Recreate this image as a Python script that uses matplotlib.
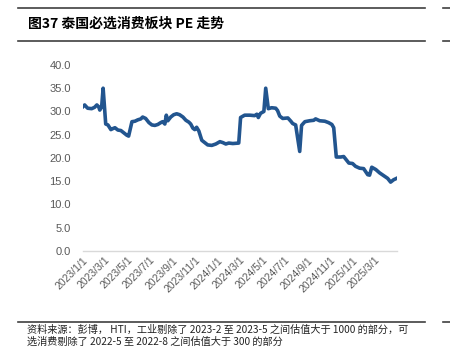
import matplotlib
matplotlib.use('Agg')
import matplotlib.pyplot as plt
import pandas as pd
from matplotlib.lines import Line2D

plt.rcParams['font.family'] = ['Noto Sans CJK SC', 'DejaVu Sans']

# Datos
dates = [
    '2023-01-01', '2023-01-06', '2023-01-14', '2023-01-25', '2023-02-02', '2023-02-08',
    '2023-02-13', '2023-02-16', '2023-02-21', '2023-02-25', '2023-03-04', '2023-03-10',
    '2023-03-18', '2023-03-23', '2023-03-29', '2023-04-06', '2023-04-14', '2023-04-22',
    '2023-04-30', '2023-05-05', '2023-05-14', '2023-05-22', '2023-05-30', '2023-06-07',
    '2023-06-12', '2023-06-20', '2023-06-29', '2023-07-07', '2023-07-15', '2023-07-23',
    '2023-07-31', '2023-08-05', '2023-08-11', '2023-08-15', '2023-08-19', '2023-08-27',
    '2023-09-04', '2023-09-12', '2023-09-20', '2023-09-29', '2023-10-07', '2023-10-15',
    '2023-10-20', '2023-10-26', '2023-10-31', '2023-11-05', '2023-11-11', '2023-11-19',
    '2023-11-27', '2023-12-05', '2023-12-16', '2023-12-27', '2024-01-07', '2024-01-15',
    '2024-01-23', '2024-01-31', '2024-02-11', '2024-02-27', '2024-03-03', '2024-03-14',
    '2024-03-28', '2024-04-10', '2024-04-16', '2024-04-20', '2024-04-26', '2024-05-05',
    '2024-05-10', '2024-05-17', '2024-05-26', '2024-06-06', '2024-06-11', '2024-06-17',
    '2024-06-25', '2024-07-09', '2024-07-17', '2024-07-22', '2024-07-30', '2024-08-10',
    '2024-08-15', '2024-08-24', '2024-09-06', '2024-09-17', '2024-09-22', '2024-10-03',
    '2024-10-17', '2024-10-27', '2024-11-05', '2024-11-10', '2024-11-17', '2024-11-29',
    '2024-12-07', '2024-12-15', '2024-12-21', '2024-12-31', '2025-01-08', '2025-01-19',
    '2025-01-30', '2025-02-10', '2025-02-15', '2025-02-21', '2025-03-04', '2025-03-14',
    '2025-03-25', '2025-04-05', '2025-04-13', '2025-04-21', '2025-04-29',
]
pe_values = [
    31.0, 31.4, 30.7, 30.6, 30.9, 31.4,
    31.0, 30.3, 31.0, 35.0, 27.3, 27.1,
    26.1, 26.3, 26.5, 26.0, 25.9, 25.4,
    24.9, 24.7, 27.8, 27.9, 28.2, 28.4,
    28.8, 28.5, 27.6, 27.1, 27.0, 27.2,
    27.6, 27.8, 27.3, 29.2, 28.0, 28.8,
    29.3, 29.5, 29.3, 28.8, 28.1, 27.7,
    27.3, 26.4, 26.1, 26.6, 25.8, 23.8,
    23.3, 22.8, 22.7, 23.0, 23.5, 23.3,
    23.0, 23.2, 23.1, 23.2, 28.7, 29.2,
    29.2, 29.1, 29.4, 28.7, 29.6, 30.0,
    35.0, 30.6, 30.8, 30.7, 30.2, 29.0,
    28.5, 28.6, 27.9, 27.4, 27.1, 21.4,
    27.0, 27.8, 28.0, 28.1, 28.4, 28.0,
    27.9, 27.6, 27.2, 26.5, 20.2, 20.2,
    20.3, 19.5, 18.9, 18.8, 18.2, 17.8,
    17.7, 16.4, 16.3, 18.0, 17.5, 16.8,
    16.2, 15.6, 14.8, 15.3, 15.6,
]
tick_dates = pd.date_range('2023-01-01', '2025-03-01', freq='2MS')
y_ticks = [0, 5, 10, 15, 20, 25, 30, 35, 40]

title = '图37 泰国必选消费板块 PE 走势'
source = ('资料来源：彭博， HTI，工业剔除了 2023-2 至 2023-5 之间估值大于 1000 的部分，可\n'
          '选消费剔除了 2022-5 至 2022-8 之间估值大于 300 的部分')

x = pd.to_datetime(dates)

fig = plt.figure(figsize=(4.5, 3.61), dpi=100)
ax = fig.add_axes([0.184, 0.305, 0.698, 0.515])

ax.plot(x, pe_values, color='#22558F', linewidth=2.6, solid_joinstyle='round')

ax.set_ylim(0, 40)
ax.set_xlim(pd.Timestamp('2023-01-01'), pd.Timestamp('2025-04-30'))
ax.set_yticks(y_ticks)
ax.set_yticklabels([f'{v:.1f}' for v in y_ticks], family='Liberation Sans',
                   fontsize=8, color='#595959')
ax.set_xticks(tick_dates)
ax.set_xticklabels([f'{d.year}/{d.month}/1' for d in tick_dates], family='Liberation Sans',
                   fontsize=7.5, color='#595959', rotation=45, ha='right', va='top',
                   rotation_mode='anchor')
ax.tick_params(axis='both', length=0)
ax.tick_params(axis='y', pad=8.5)
ax.tick_params(axis='x', pad=3)

for s in ['top', 'right', 'left']:
    ax.spines[s].set_visible(False)
ax.spines['bottom'].set_color('#D9D9D9')
ax.spines['bottom'].set_linewidth(1.0)

# Marco del informe
for yy in [1 - 8 / 361, 1 - 41 / 361, 1 - 322 / 361]:
    fig.add_artist(Line2D([18 / 450, 425 / 450], [yy, yy], color='#404040', lw=1.2))
    fig.add_artist(Line2D([443 / 450, 1.0], [yy, yy], color='#404040', lw=1.2))

fig.text(28 / 450, 1 - 24 / 361, title, fontsize=10, fontweight='bold', va='center', ha='left')
fig.text(27 / 450, 1 - 325 / 361, source, fontsize=7.3, va='top', ha='left',
         linespacing=1.15, color='#222222')

fig.savefig('out.png', dpi=100)
